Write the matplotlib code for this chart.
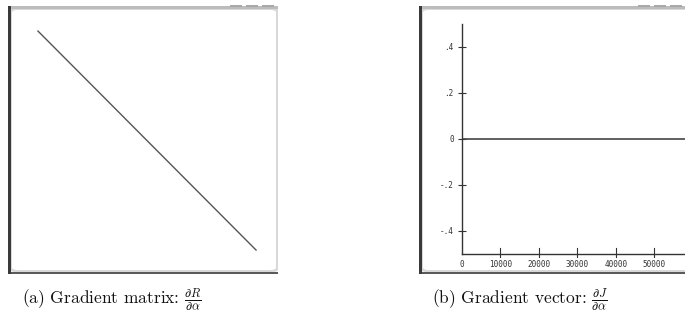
import matplotlib
matplotlib.use("Agg")
import matplotlib.pyplot as plt
from matplotlib.patches import Rectangle, FancyBboxPatch
import numpy as np

plt.rcParams['mathtext.fontset'] = 'cm'
plt.rcParams['font.family'] = ['DejaVu Serif']

# Data
matrix_size = 100
diag_idx = [0, matrix_size]          # diagonal of gradient matrix (start/end)
vec_x = [0, 58000]                   # gradient vector index range
vec_y = [0.0, 0.0]                   # gradient vector values (all zero)
yticks = [-0.4, -0.2, 0.0, 0.2, 0.4]
ytick_labels = ['-.4', '-.2', '0', '.2', '.4']
xticks = [0, 10000, 20000, 30000, 40000, 50000]
xtick_labels = ['0', '10000', '20000', '30000', '40000', '50000']
captions = [r"(a) Gradient matrix: $\frac{\partial R}{\partial \alpha}$",
            r"(b) Gradient vector: $\frac{\partial J}{\partial \alpha}$"]

W, H = 685, 325
fig = plt.figure(figsize=(W / 100, H / 100), dpi=100)
fig.patch.set_facecolor('white')


def fx(x):
    return x / W


def fy(y):
    return 1 - y / H


def rect(x0, y0, x1, y1, color, z=1, rounded=False):
    if rounded:
        p = FancyBboxPatch((fx(x0), fy(y1)), fx(x1) - fx(x0), fy(y0) - fy(y1),
                           boxstyle="round,pad=0,rounding_size=0.008",
                           transform=fig.transFigure, facecolor=color,
                           edgecolor='none', zorder=z)
    else:
        p = Rectangle((fx(x0), fy(y1)), fx(x1) - fx(x0), fy(y0) - fy(y1),
                      transform=fig.transFigure, facecolor=color,
                      edgecolor='none', zorder=z)
    fig.add_artist(p)


def frame(x0, x1, y0=6, y1=274, right_edge=True):
    # bottom dark line
    rect(x0, y1 - 2, x1, y1, '#5a5a5a', z=1)
    # light window border
    rect(x0 + 2, y0, x1 + (0 if right_edge else 6), y1 - 2, '#d8d8d8', z=2, rounded=True)
    # white interior
    rect(x0 + 4, y0 + 4, x1 - (2 if right_edge else -6), y1 - 4, 'white', z=3, rounded=True)
    # left dark border
    rect(x0, y0, x0 + 3, y1, '#3a3a3a', z=4)
    # top grey bar
    rect(x0 + 3, y0, x1, y0 + 3, '#bcbcbc', z=4)
    # window buttons (dashes) at top right
    for k in range(3):
        bx = x1 - 48 + k * 16
        rect(bx, y0 - 1, bx + 12, y0 + 1, '#a8a8a8', z=4)


frame(8, 278)
frame(419, 686, right_edge=False)

# Left panel: gradient matrix (diagonal)
axL = fig.add_axes([fx(14), fy(268), fx(270) - fx(14), fy(14) - fy(268)])
axL.set_xlim(-11, 106.4)
axL.set_ylim(108.2, -7.8)
axL.plot(diag_idx, diag_idx, color='#555555', lw=1.0)
axL.axis('off')
axL.set_zorder(5)

# Right panel: gradient vector
x_left_px, x_right_px = 462, 685
y_top_px, y_bot_px = 24, 254
axR = fig.add_axes([fx(x_left_px), fy(y_bot_px), fx(x_right_px) - fx(x_left_px),
                    fy(y_top_px) - fy(y_bot_px)])
axR.set_zorder(5)
axR.set_xlim(0, 58000)
axR.set_ylim(-0.5, 0.5)
axR.plot(vec_x, vec_y, color='#444444', lw=1.2)
for s in ['top', 'right']:
    axR.spines[s].set_visible(False)
for s in ['left', 'bottom']:
    axR.spines[s].set_color('#333333')
    axR.spines[s].set_linewidth(1.0)
axR.set_yticks(yticks)
axR.set_yticklabels(ytick_labels, fontfamily='DejaVu Sans Mono', fontsize=5.5, color='#333333')
axR.set_xticks(xticks)
axR.set_xticklabels(xtick_labels, fontfamily='DejaVu Sans Mono', fontsize=5.5, color='#333333')
axR.tick_params(axis='y', direction='inout', length=6, width=0.8, color='#333333', pad=3)
axR.tick_params(axis='x', direction='out', length=0, width=0.8, pad=4)
for xt in xticks[1:]:
    axR.plot([xt, xt], [-0.5, -0.475], color='#333333', lw=0.8, clip_on=False)
    axR.plot([xt, xt], [-0.5, -0.512], color='#333333', lw=0.8, clip_on=False)
axR.patch.set_alpha(0)

# Captions
fig.text(fx(112), fy(300), captions[0], ha='center', va='center', fontsize=12.5,
         family='cmr10', color='#111111')
fig.text(fx(520), fy(300), captions[1], ha='center', va='center', fontsize=12.5,
         family='cmr10', color='#111111')

fig.savefig('out.png', dpi=100)
